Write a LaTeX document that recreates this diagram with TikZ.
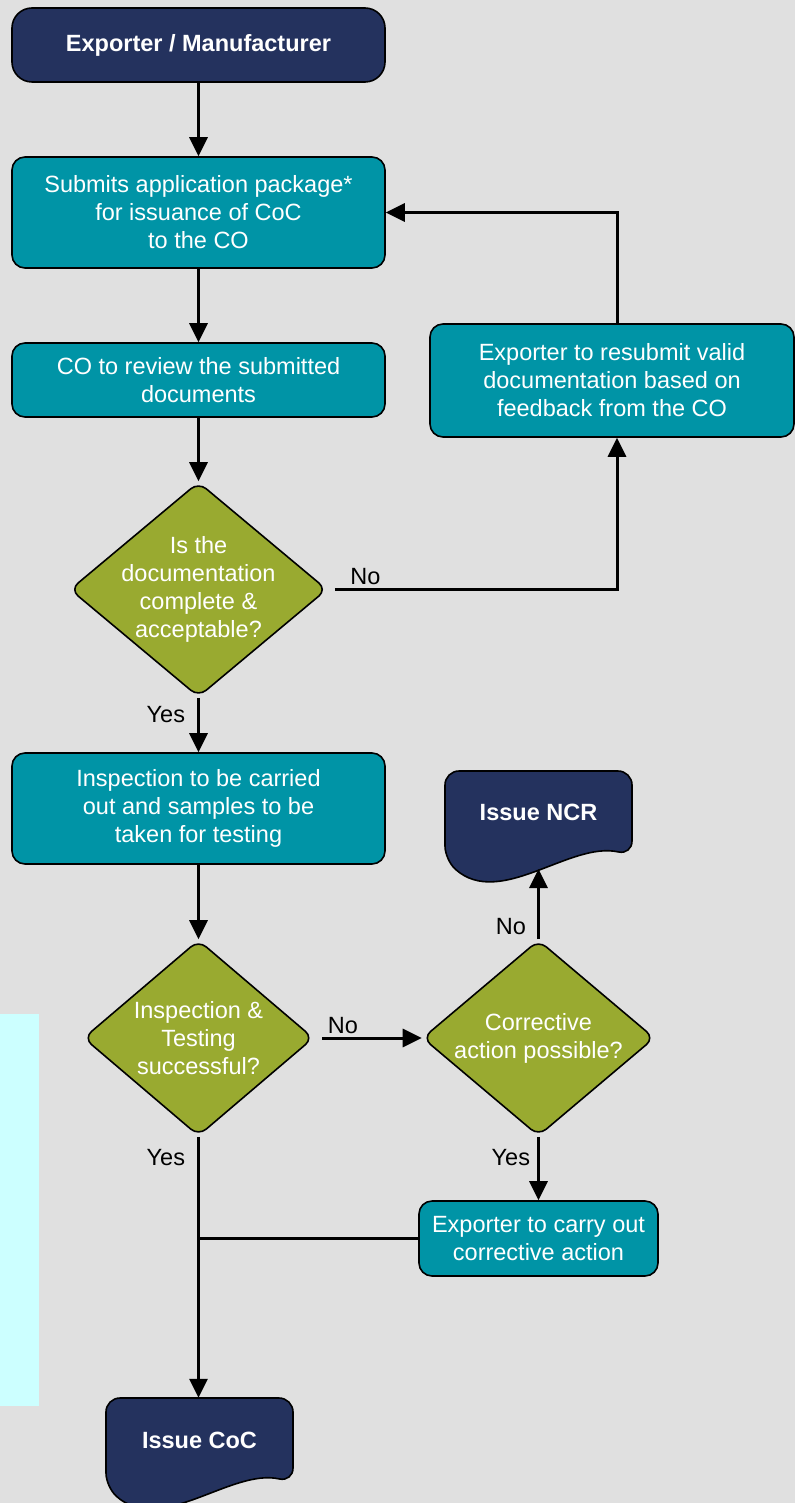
\documentclass[tikz,border=0pt]{standalone}
\usepackage{fontspec}
\setmainfont{Liberation Sans}
\usetikzlibrary{arrows.meta,shapes.geometric,positioning}

\definecolor{flownavy}{RGB}{36,50,94}
\definecolor{flowteal}{RGB}{0,148,166}
\definecolor{flowolive}{RGB}{153,170,48}
\definecolor{flowgray}{RGB}{224,224,224}
\definecolor{flowcyan}{RGB}{204,255,255}

\newcommand\flowfont{\fontsize{23.5pt}{28pt}\selectfont}

\tikzset{
  base/.style={draw=black, line width=1.6pt, text=white, align=center, font=\flowfont, inner sep=2pt},
  startbox/.style={base, fill=flownavy, rounded corners=20pt, font=\flowfont\bfseries,
                   minimum width=373pt, minimum height=74pt},
  procbox/.style={base, fill=flowteal, rounded corners=13pt},
  decision/.style={base, diamond, fill=flowolive, rounded corners=10pt},
  decisiontext/.style={text=white, align=center, font=\flowfont},
  docshape/.style={draw=black, line width=1.6pt, fill=flownavy, rounded corners=14pt},
  doctext/.style={text=white, font=\flowfont\bfseries},
  flow/.style={line width=3pt, -{Triangle[length=19pt,width=18pt]}},
  joinline/.style={line width=2.2pt},
  answer/.style={text=black, font=\flowfont, inner sep=3pt}
}

\begin{document}
\begin{tikzpicture}[x=1pt,y=-1pt]
  \useasboundingbox (0,0) rectangle (795,1503);
  \clip (0,0) rectangle (795,1503);
  \fill[flowgray] (0,0) rectangle (795,1503);
  \fill[flowcyan] (0,1014) rectangle (39,1406);

  % main column
  \node[startbox] (exporter) at (198.5,45) {Exporter / Manufacturer};
  \node[procbox, minimum width=373pt, minimum height=111pt] (submit) at (198.5,212.5)
    {Submits application package*\\for issuance of CoC\\to the CO};
  \node[procbox, minimum width=373pt, minimum height=74pt] (review) at (198.5,380)
    {CO to review the submitted\\documents};
  \node[decision, minimum width=257pt, minimum height=215pt,
        label={[decisiontext]center:Is the\\documentation\\complete \&\\acceptable?}]
    (complete) at (198.5,589.5) {};
  \node[procbox, minimum width=373pt, minimum height=111pt] (inspect) at (198.5,808.5)
    {Inspection to be carried\\out and samples to be\\taken for testing};
  \node[decision, minimum width=230pt, minimum height=196pt,
        label={[decisiontext]center:Inspection \&\\Testing\\successful?}]
    (testing) at (198.5,1038) {};

  % right column
  \node[procbox, minimum width=364pt, minimum height=113pt] (resubmit) at (612,380.5)
    {Exporter to resubmit valid\\documentation based on\\feedback from the CO};
  \node[decision, minimum width=232pt, minimum height=196pt,
        label={[decisiontext]center:Corrective\\action possible?}]
    (possible) at (538.5,1038) {};
  \node[procbox, minimum width=239pt, minimum height=75pt] (corrective) at (538.5,1238.5)
    {Exporter to carry out\\corrective action};

  % document shapes
  \begin{scope}[shift={(445,771)}]
    \draw[docshape] (0,0) -- (0,89) .. controls (55,138) and (125,70) .. (187,84) -- (187,0) -- cycle;
    \node[doctext] (ncr) at (93.5,41) {Issue NCR};
    \coordinate (ncr-in) at (93.5,98);
  \end{scope}
  \begin{scope}[shift={(106,1398)}]
    \draw[docshape] (0,0) -- (0,89) .. controls (55,138) and (125,70) .. (187,84) -- (187,0) -- cycle;
    \node[doctext, minimum height=84pt] (coc) at (93.5,42) {Issue CoC};
  \end{scope}

  % connectors
  \draw[flow] (exporter) -- (submit);
  \draw[flow] (submit) -- (review);
  \draw[flow] (review) -- (complete);
  \draw[flow] (complete.south) node[answer, below left=4pt and 9pt] {Yes} -- (inspect);
  \draw[flow] ([xshift=7pt]complete.east) node[answer, above right=0pt and 11pt] {No}
    -| ([xshift=5pt]resubmit.south);
  \draw[flow] ([xshift=5pt]resubmit.north) |- (submit.east);
  \draw[flow] (inspect) -- (testing);
  \draw[flow] ([xshift=8pt]testing.east) node[answer, above right=0pt and 1pt] {No} -- (possible.west);
  \draw[flow] (possible.north) node[answer, above left=0pt and 8pt] {No} -- (possible.north |- ncr-in);
  \draw[flow] (possible.south) node[answer, below left=8pt and 4pt] {Yes} -- (corrective.north);
  \draw[flow] (testing.south) node[answer, below left=8pt and 9pt] {Yes} -- (testing.south |- coc.north);
  \draw[joinline] (corrective.west) -- (corrective.west -| testing.south);
\end{tikzpicture}
\end{document}
